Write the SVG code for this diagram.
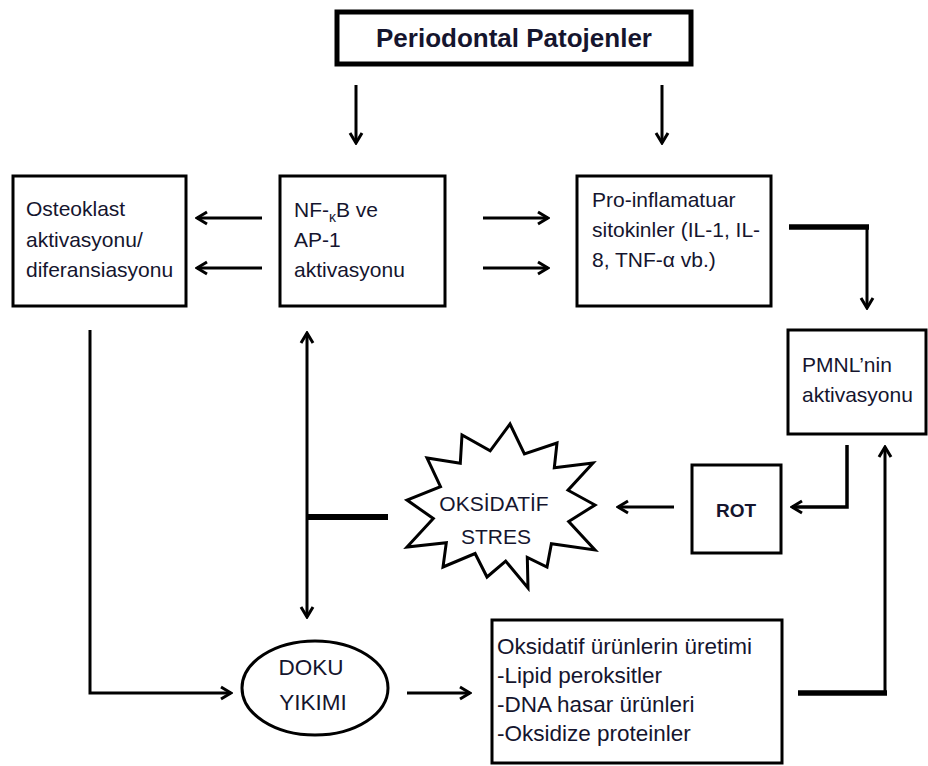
<svg xmlns="http://www.w3.org/2000/svg" width="928" height="766" viewBox="0 0 928 766">
<style>
.box{fill:#fff;stroke:#000;stroke-width:3}
.t{font-family:"Liberation Sans",Arial,sans-serif;font-size:21px;fill:#15152e}
.big{font-size:22.5px}
.c{fill:none;stroke:#000;stroke-width:3}
.thick{fill:none;stroke:#000;stroke-width:5.5}
</style>
<defs>
<marker id="ah" viewBox="0 0 14 16" refX="12" refY="8" markerWidth="14" markerHeight="16" markerUnits="userSpaceOnUse" orient="auto-start-reverse">
<path d="M2,2 L12,8 L2,14" fill="none" stroke="#000" stroke-width="3"/>
</marker>
</defs>
<rect width="928" height="766" fill="#fff"/>
<g id="title">
<rect x="337" y="12" width="354" height="52" fill="#fff" stroke="#000" stroke-width="5"/>
<text class="t" x="514" y="47" text-anchor="middle" style="font-weight:bold;font-size:26px">Periodontal Patojenler</text>
</g>
<g id="osteoklast">
<rect class="box" x="13" y="176" width="173" height="130"/>
<text class="t" x="26" y="216">Osteoklast</text>
<text class="t" x="26" y="247">aktivasyonu/</text>
<text class="t" x="26" y="277">diferansiasyonu</text>
</g>
<g id="nfkb">
<rect class="box" x="280" y="176" width="165" height="130"/>
<text class="t" x="294" y="217">NF-<tspan style="font-size:14px" dy="5">κ</tspan><tspan dy="-5">B ve</tspan></text>
<text class="t" x="294" y="247">AP-1</text>
<text class="t" x="294" y="277">aktivasyonu</text>
</g>
<g id="proinflamatuar">
<rect class="box" x="577" y="176" width="194" height="130"/>
<text class="t" x="592" y="207">Pro-inflamatuar</text>
<text class="t" x="592" y="237">sitokinler (IL-1, IL-</text>
<text class="t" x="592" y="267">8, TNF-α vb.)</text>
</g>
<g id="pmnl">
<rect class="box" x="788" y="330" width="138" height="104"/>
<text class="t" x="802" y="372">PMNL’nin</text>
<text class="t" x="802" y="402">aktivasyonu</text>
</g>
<g id="rot">
<rect class="box" x="692" y="465" width="89" height="88"/>
<text class="t" x="736" y="517" text-anchor="middle" style="font-weight:bold;font-size:19px">ROT</text>
</g>
<g id="oksidatif-stres">
<polygon class="box" points="510,424 524.4,453.8 557,443 554.3,467.8 593,463 568,490.2 595,505 568.7,521.5 595,550 551.4,543.8 547,567 527.3,557.5 528,588 505.7,561.1 487,577 475.1,553.5 443,567 446.3,542.7 407,547 433.3,518.6 407,500 440.5,486.6 427,458 460.3,463.2 462,435 490.2,450.9"/>
<text class="t" x="494" y="511" text-anchor="middle">OKSİDATİF</text>
<text class="t" x="496" y="544" text-anchor="middle">STRES</text>
</g>
<g id="doku-yikimi">
<ellipse class="box" cx="315" cy="688" rx="73" ry="47"/>
<text class="t big" x="311" y="675" text-anchor="middle">DOKU</text>
<text class="t big" x="313" y="710" text-anchor="middle">YIKIMI</text>
</g>
<g id="oksidatif-urunler">
<rect class="box" x="492" y="620" width="290" height="143"/>
<text class="t big" x="497" y="654">Oksidatif ürünlerin üretimi</text>
<text class="t big" x="497" y="683">-Lipid peroksitler</text>
<text class="t big" x="497" y="712">-DNA hasar ürünleri</text>
<text class="t big" x="497" y="741">-Oksidize proteinler</text>
</g>
<g id="connectors">
<line class="c" x1="356" y1="85" x2="356" y2="143" marker-end="url(#ah)"/>
<line class="c" x1="662" y1="85" x2="662" y2="143" marker-end="url(#ah)"/>
<line class="c" x1="262" y1="218" x2="197" y2="218" marker-end="url(#ah)"/>
<line class="c" x1="262" y1="268" x2="197" y2="268" marker-end="url(#ah)"/>
<line class="c" x1="483" y1="218" x2="548" y2="218" marker-end="url(#ah)"/>
<line class="c" x1="483" y1="268" x2="548" y2="268" marker-end="url(#ah)"/>
<line class="thick" x1="789" y1="227" x2="869" y2="227"/>
<line class="c" x1="867" y1="227" x2="867" y2="308" marker-end="url(#ah)"/>
<path class="c" d="M847,445 V507 H792" style="stroke-width:3.5" marker-end="url(#ah)"/>
<line class="c" x1="674" y1="507" x2="618" y2="507" marker-end="url(#ah)"/>
<line class="thick" x1="388" y1="517" x2="307" y2="517" style="stroke-width:6"/>
<line class="c" x1="307" y1="333" x2="307" y2="617" marker-start="url(#ah)" marker-end="url(#ah)"/>
<path class="c" d="M90,330 V693 H231" marker-end="url(#ah)"/>
<line class="c" x1="407" y1="693" x2="470" y2="693" marker-end="url(#ah)"/>
<line class="thick" x1="798" y1="693" x2="887" y2="693"/>
<line class="c" x1="885" y1="695" x2="885" y2="447" marker-end="url(#ah)"/>
</g>
</svg>
